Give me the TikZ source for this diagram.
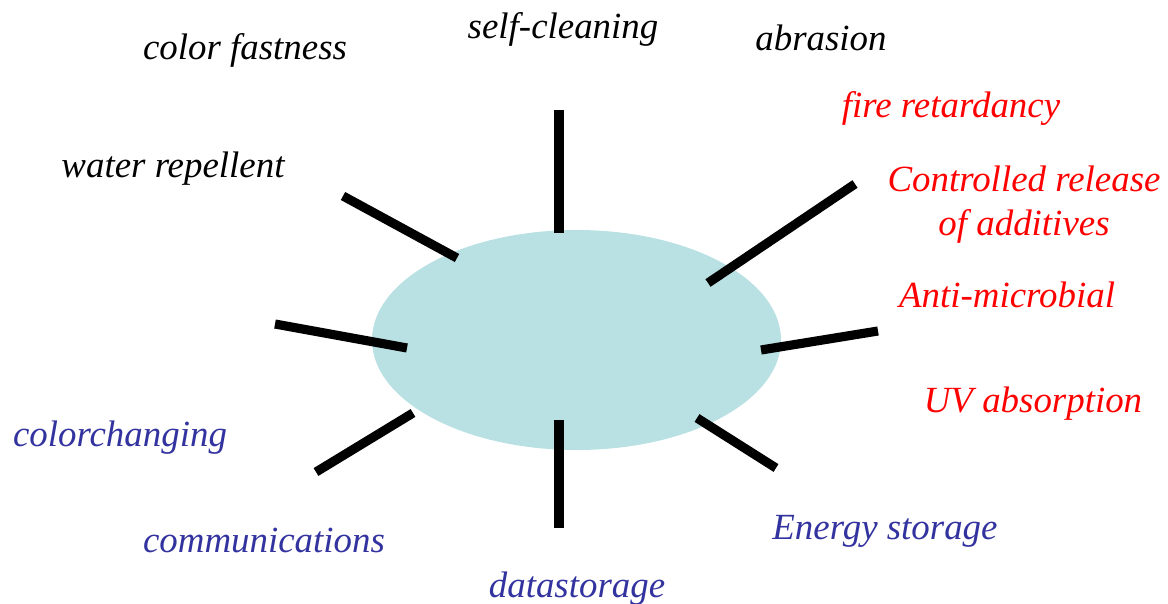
\documentclass[tikz,border=0pt]{standalone}
\usepackage{fontspec}
\setmainfont{Liberation Serif}
\usetikzlibrary{shapes.geometric}
\definecolor{blob}{HTML}{B9E0E3}
\definecolor{labelblue}{HTML}{3333A0}
\definecolor{labelred}{HTML}{FF0000}
\tikzset{
    prop/.style={font=\fontsize{21}{25}\selectfont\itshape, inner sep=0pt, anchor=base},
    spike/.style={line width=5.2pt, black}
}

\begin{document}
\begin{tikzpicture}
    \useasboundingbox (0,0) rectangle (23.36,12.06);
    % Particle
    \node[ellipse, fill=blob, minimum width=8.18cm, minimum height=4.4cm, inner sep=0pt] (core) at (11.53,5.26) {};
    % Spikes
    \draw[spike] (11.18,9.86) -- (11.18,7.40);
    \draw[spike] (6.86,8.14) -- (9.14,6.90);
    \draw[spike] (5.50,5.58) -- (8.14,5.10);
    \draw[spike] (8.26,3.80) -- (6.32,2.62);
    \draw[spike] (11.18,3.66) -- (11.18,1.50);
    \draw[spike] (13.94,3.70) -- (15.52,2.70);
    \draw[spike] (15.22,5.06) -- (17.56,5.44);
    \draw[spike] (14.16,6.40) -- (17.10,8.38);
    % Black labels
    \node[prop] (fast) at (4.90,10.86) {color fastness};
    \node[prop] (clean) at (11.26,11.28) {self-cleaning};
    \node[prop] (abr) at (16.42,11.04) {abrasion};
    \node[prop] (water) at (3.46,8.50) {water repellent};
    % Red labels
    \node[prop, labelred] (fire) at (19.02,9.70) {fire retardancy};
    \node[prop, labelred, anchor=center, align=center] (release) at (20.48,7.96) {Controlled release\\of additives};
    \node[prop, labelred] (micro) at (20.14,5.92) {Anti-microbial};
    \node[prop, labelred] (uv) at (20.66,3.82) {UV absorption};
    % Blue labels
    \node[prop, labelblue] (color) at (2.40,3.14) {colorchanging};
    \node[prop, labelblue] (comm) at (5.28,1.02) {communications};
    \node[prop, labelblue] (energy) at (17.70,1.28) {Energy storage};
    \node[prop, labelblue] (data) at (11.54,0.12) {datastorage};
\end{tikzpicture}
\end{document}
